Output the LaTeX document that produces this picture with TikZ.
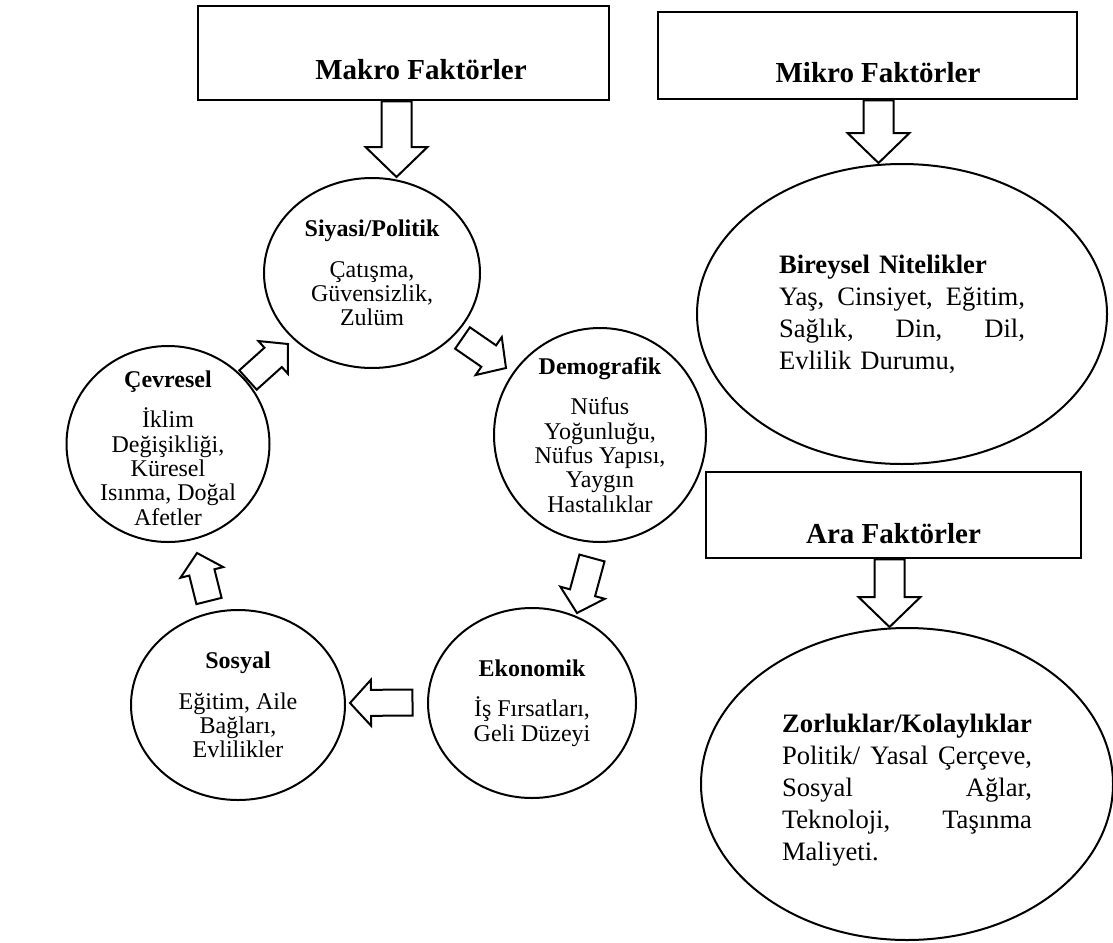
\documentclass[tikz,border=0pt]{standalone}
\usepackage{fontspec}
\setmainfont{Liberation Serif}
\usetikzlibrary{shapes.geometric,calc}

\begin{document}
\begin{tikzpicture}[x=0.5pt, y=-0.5pt,
    box/.style={draw, line width=1.3pt, inner sep=0pt},
    title/.style={font=\fontsize{14.5}{17}\selectfont\bfseries},
    circ/.style={draw, ellipse, line width=1pt, inner sep=0pt},
    circtext/.style={align=center, font=\fontsize{12}{12.2}\selectfont},
    ovaltext/.style={align=left, text width=#1, font=\fontsize{13.3}{16}\selectfont},
    blockarrow/.style={draw, line width=1pt, fill=white, line join=miter}]
    \useasboundingbox (0,0) rectangle (1113,942);

    % Factor boxes
    \node[box, minimum width=205.5pt, minimum height=47pt] (makro) at (403.5,53) {};
    \node[title] (makro-title) at ([xshift=8.75pt,yshift=-8.5pt]makro.center) {Makro Faktörler};
    \node[box, minimum width=209.5pt, minimum height=43.5pt] (mikro) at (867.5,55.5) {};
    \node[title] (mikro-title) at ([xshift=5.25pt,yshift=-8.75pt]mikro.center) {Mikro Faktörler};
    \node[box, minimum width=187.5pt, minimum height=43pt] (ara) at (893.5,515) {};
    \node[title] (ara-title) at ([yshift=-9.5pt]ara.center) {Ara Faktörler};

    % Macro cycle
    \node[circ, minimum width=108pt, minimum height=95pt] (siyasi) at (372,273) {};
    \node[circ, minimum width=106pt, minimum height=107pt] (demografik) at (600,435) {};
    \node[circ, minimum width=104pt, minimum height=95pt] (ekonomik) at (532,703) {};
    \node[circ, minimum width=107pt, minimum height=95pt] (sosyal) at (238,705) {};
    \node[circ, minimum width=101.5pt, minimum height=98pt] (cevresel) at (168,444) {};

    \node[circtext] (siyasi-text) at (siyasi) {\textbf{Siyasi/Politik}\\[8pt] Çatışma,\\ Güvensizlik,\\ Zulüm};
    \node[circtext] (demografik-text) at (demografik) {\textbf{Demografik}\\[8pt] Nüfus\\ Yoğunluğu,\\ Nüfus Yapısı,\\ Yaygın\\ Hastalıklar};
    \node[circtext] (ekonomik-text) at (ekonomik) {\textbf{Ekonomik}\\[8pt] İş Fırsatları,\\ Geli Düzeyi};
    \node[circtext] (sosyal-text) at (sosyal) {\textbf{Sosyal}\\[8pt] Eğitim, Aile\\ Bağları,\\ Evlilikler};
    \node[circtext] (cevresel-text) at ([yshift=-2pt]cevresel.center) {\textbf{Çevresel}\\[7pt] İklim\\ Değişikliği,\\ Küresel\\ Isınma, Doğal\\ Afetler};

    % Micro and meso ellipses
    \node[circ, minimum width=205pt, minimum height=150pt] (bireysel) at (902,314) {};
    \node[circ, minimum width=206pt, minimum height=156pt] (zorluklar) at (907,784) {};
    \node[ovaltext=123pt] (bireysel-text) at (bireysel) {\textbf{Bireysel Nitelikler}\\
        \leavevmode\hbox to 123pt{Yaş,\hfill Cinsiyet,\hfill Eğitim,}\\
        \leavevmode\hbox to 123pt{Sağlık,\hfill Din,\hfill Dil,}\\
        Evlilik Durumu,};
    \node[ovaltext=125pt] (zorluklar-text) at ([yshift=-3pt]zorluklar.center) {\textbf{Zorluklar/Kolaylıklar}\\
        \leavevmode\hbox to 125pt{Politik/\hfill Yasal\hfill Çerçeve,}\\
        \leavevmode\hbox to 125pt{Sosyal\hfill Ağlar,}\\
        \leavevmode\hbox to 125pt{Teknoloji,\hfill Taşınma}\\
        Maliyeti.};

    % Arrow ends
    \coordinate (makro-out) at ([xshift=-3.5pt]makro.south);
    \coordinate (siyasi-in) at (makro-out |- siyasi.north);
    \coordinate (mikro-out) at ([xshift=5.5pt]mikro.south);
    \coordinate (bireysel-in) at (mikro-out |- bireysel.north);
    \coordinate (ara-out) at ([xshift=-2pt]ara.south);
    \coordinate (zorluklar-in) at (ara-out |- zorluklar.north);
    \coordinate (sd-out) at (462.5,338);
    \coordinate (sd-in) at (506,368);
    \coordinate (de-out) at (592,558);
    \coordinate (de-in) at (577,613);
    \coordinate (es-out) at (412.5,702.5);
    \coordinate (es-in) at (350,703);
    \coordinate (sc-out) at (209,601);
    \coordinate (sc-in) at (197,553);
    \coordinate (cs-out) at (248,380);
    \coordinate (cs-in) at (288,344);

    % Block arrows
    \foreach \from/\to/\sw/\hw/\hl in {makro-out/siyasi-in/7.5pt/15.5pt/15pt,
        mikro-out/bireysel-in/7.5pt/15.5pt/15pt, ara-out/zorluklar-in/7.5pt/15.5pt/15pt,
        sd-out/sd-in/6.5pt/11.5pt/10.5pt, de-out/de-in/6.5pt/11.5pt/10.5pt,
        es-out/es-in/6.5pt/11.5pt/10.5pt, sc-out/sc-in/6.5pt/11pt/10pt,
        cs-out/cs-in/6.5pt/11pt/10pt}{
        \coordinate (neck) at ($(\to)!\hl!(\from)$);
        \draw[blockarrow] ($(\from)!\sw!90:(\to)$) -- ($(neck)!\sw!90:(\to)$)
            -- ($(neck)!\hw!90:(\to)$) -- (\to) -- ($(neck)!\hw!-90:(\to)$)
            -- ($(neck)!\sw!-90:(\to)$) -- ($(\from)!\sw!-90:(\to)$) -- cycle;
    }
\end{tikzpicture}
\end{document}
